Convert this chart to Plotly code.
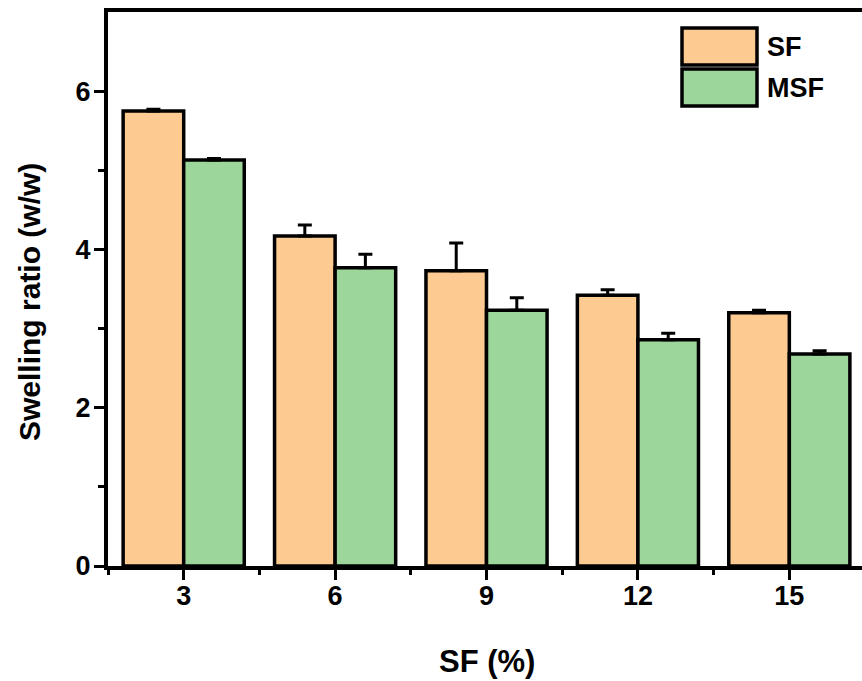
import plotly.graph_objects as go

categories = [3, 6, 9, 12, 15]
sf_values = [5.75, 4.17, 3.73, 3.42, 3.20]
sf_errors = [0.02, 0.14, 0.35, 0.07, 0.03]
msf_values = [5.13, 3.77, 3.23, 2.86, 2.68]
msf_errors = [0.02, 0.17, 0.16, 0.08, 0.04]
series_names = ["SF", "MSF"]
y_ticks = [0, 2, 4, 6]

SF_COLOR = "#FDCB91"
MSF_COLOR = "#9DD69A"
FONT = "Liberation Sans, Arial, sans-serif"

W, H = 862, 681
ML, MR, MT, MB = 108, 0, 12, 115

fig = go.Figure()
for name, vals, errs, col in [
    (series_names[0], sf_values, sf_errors, SF_COLOR),
    (series_names[1], msf_values, msf_errors, MSF_COLOR),
]:
    fig.add_trace(go.Bar(
        x=categories, y=vals, name=name,
        marker=dict(color=col, line=dict(color="black", width=3.5)),
        error_y=dict(type="data", symmetric=False, array=errs,
                     arrayminus=[0] * len(errs), color="black",
                     thickness=3, width=7),
        showlegend=False,
    ))

fig.update_layout(
    width=W, height=H,
    margin=dict(l=ML, r=MR, t=MT, b=MB),
    paper_bgcolor="white", plot_bgcolor="white",
    barmode="group", bargap=0.2, bargroupgap=0,
    font=dict(family=FONT, color="black"),
)
fig.update_xaxes(
    range=[1.5, 16.44], tickmode="array", tickvals=categories,
    ticktext=[f"<b>{c}</b>" for c in categories],
    ticks="outside", ticklen=10, tickwidth=3, tickcolor="black",
    minor=dict(tickvals=[1.5, 4.5, 7.5, 10.5, 13.5], ticks="outside",
               ticklen=5, tickwidth=3, tickcolor="black"),
    showline=True, linewidth=4, linecolor="black", mirror=True,
    showgrid=False, zeroline=False,
    tickfont=dict(size=27, family=FONT, color="black"),
    ticklabelstandoff=-7,
)
fig.update_yaxes(
    range=[0, 7], tickmode="array", tickvals=y_ticks,
    ticktext=[f"<b>{t}</b>" for t in y_ticks],
    ticks="outside", ticklen=10, tickwidth=3, tickcolor="black",
    minor=dict(tickvals=[1, 3, 5], ticks="outside", ticklen=6,
               tickwidth=3, tickcolor="black"),
    showline=True, linewidth=4, linecolor="black", mirror=False,
    showgrid=False, zeroline=False,
    tickfont=dict(size=27, family=FONT, color="black"),
    ticklabelstandoff=-2,
)

# axis titles
fig.add_annotation(text="<b>SF (%)</b>", xref="paper", yref="paper",
                   x=(487 - ML) / (W - ML - MR), y=-(661 - (H - MB)) / (H - MT - MB),
                   xanchor="center", yanchor="middle", showarrow=False,
                   font=dict(size=31, family=FONT, color="black"))
fig.add_annotation(text="<b>Swelling ratio (w/w)</b>", xref="paper", yref="paper",
                   x=-(ML - 29) / (W - ML - MR), y=((H - MB) - 302) / (H - MT - MB),
                   xanchor="center", yanchor="middle", textangle=-90, showarrow=False,
                   font=dict(size=30, family=FONT, color="black"))

# legend drawn manually
def px_x(p):
    return (p - ML) / (W - ML - MR)

def px_y(p):
    return ((H - MB) - p) / (H - MT - MB)

legend_items = [(series_names[0], SF_COLOR, 28, 65), (series_names[1], MSF_COLOR, 69, 106)]
for name, col, y0, y1 in legend_items:
    fig.add_shape(type="rect", xref="paper", yref="paper",
                  x0=px_x(682), x1=px_x(757), y0=px_y(y1), y1=px_y(y0),
                  fillcolor=col, line=dict(color="black", width=3.5))
    fig.add_annotation(text=f"<b>{name}</b>", xref="paper", yref="paper",
                       x=px_x(765), y=px_y((y0 + y1) / 2), xanchor="left",
                       yanchor="middle", showarrow=False,
                       font=dict(size=27, family=FONT, color="black"))

fig.write_html(
    "out.html",
    config={"displayModeBar": False},
    post_script="document.body.style.margin='0';document.body.style.overflow='hidden';",
)
